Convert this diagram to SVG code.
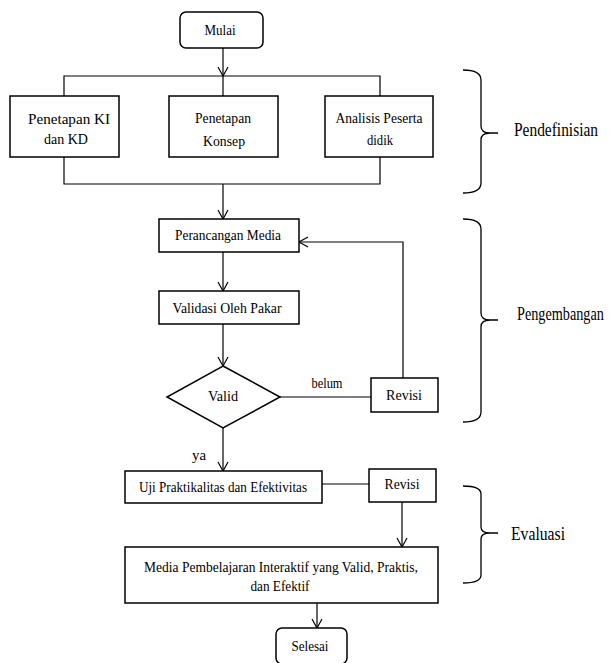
<svg xmlns="http://www.w3.org/2000/svg" width="614" height="663" viewBox="0 0 614 663">
<defs>
<style>
.box{fill:#fff;stroke:#000;stroke-width:1.5}
.ln{fill:none;stroke:#000;stroke-width:1.2}
.br{fill:none;stroke:#000;stroke-width:1.3}
text{font-family:"Liberation Serif","DejaVu Serif","Times New Roman",serif;font-size:15px;fill:#000;text-anchor:middle;dominant-baseline:central}
.lbl{font-size:18px;text-anchor:start}
</style>
<marker id="ah" markerWidth="12" markerHeight="12" refX="10" refY="6" orient="auto" markerUnits="userSpaceOnUse">
<path d="M1,1 L10,6 L1,11" fill="none" stroke="#000" stroke-width="1.2"/>
</marker>
</defs>
<rect width="614" height="663" fill="#fff"/>
<g id="connectors">
<line class="ln" x1="223" y1="48" x2="223" y2="76" marker-end="url(#ah)"/>
<polyline class="ln" points="64,96 64,76 380,76 380,96"/>
<line class="ln" x1="223" y1="76" x2="223" y2="96"/>
<polyline class="ln" points="64,157 64,184 380,184 380,157"/>
<line class="ln" x1="223" y1="184" x2="223" y2="219" marker-end="url(#ah)"/>
<line class="ln" x1="223" y1="252" x2="223" y2="291" marker-end="url(#ah)"/>
<line class="ln" x1="223" y1="324" x2="223" y2="366" marker-end="url(#ah)"/>
<line class="ln" x1="280" y1="397" x2="371" y2="397"/>
<polyline class="ln" points="403,378 403,242 299,242" marker-end="url(#ah)"/>
<line class="ln" x1="223" y1="428" x2="223" y2="471" marker-end="url(#ah)"/>
<line class="ln" x1="322" y1="484" x2="369" y2="484"/>
<line class="ln" x1="402" y1="502" x2="402" y2="547" marker-end="url(#ah)"/>
<line class="ln" x1="317" y1="603" x2="317" y2="628" marker-end="url(#ah)"/>
<text x="327" y="383" textLength="31" lengthAdjust="spacingAndGlyphs">belum</text>
<text x="199" y="455" textLength="14" lengthAdjust="spacingAndGlyphs">ya</text>
</g>
<g id="mulai"><rect class="box" x="180" y="12" width="83" height="36" rx="6"/><text x="220" y="30" textLength="31" lengthAdjust="spacingAndGlyphs">Mulai</text></g>
<g id="ki"><rect class="box" x="10" y="96" width="109" height="61"/><text x="69" y="119" textLength="82" lengthAdjust="spacingAndGlyphs">Penetapan KI</text><text x="66" y="139" textLength="44" lengthAdjust="spacingAndGlyphs">dan KD</text></g>
<g id="konsep"><rect class="box" x="169" y="96" width="109" height="61"/><text x="223" y="118" textLength="56" lengthAdjust="spacingAndGlyphs">Penetapan</text><text x="224" y="141" textLength="42" lengthAdjust="spacingAndGlyphs">Konsep</text></g>
<g id="analisis"><rect class="box" x="325" y="96" width="108" height="61"/><text x="379" y="118" textLength="87" lengthAdjust="spacingAndGlyphs">Analisis Peserta</text><text x="380" y="140" textLength="26" lengthAdjust="spacingAndGlyphs">didik</text></g>
<g id="perancangan"><rect class="box" x="159" y="219" width="140" height="33"/><text x="228" y="235" textLength="106" lengthAdjust="spacingAndGlyphs">Perancangan Media</text></g>
<g id="validasi"><rect class="box" x="159" y="291" width="140" height="33"/><text x="227" y="308" textLength="109" lengthAdjust="spacingAndGlyphs">Validasi Oleh Pakar</text></g>
<g id="valid"><polygon class="box" points="223,366 280,397 223,428 167,397"/><text x="223" y="396" textLength="30" lengthAdjust="spacingAndGlyphs">Valid</text></g>
<g id="revisi1"><rect class="box" x="371" y="378" width="67" height="34"/><text x="404" y="395" textLength="36" lengthAdjust="spacingAndGlyphs">Revisi</text></g>
<g id="uji"><rect class="box" x="125" y="471" width="197" height="32"/><text x="223" y="487" textLength="168" lengthAdjust="spacingAndGlyphs">Uji Praktikalitas  dan Efektivitas</text></g>
<g id="revisi2"><rect class="box" x="369" y="469" width="67" height="33"/><text x="402" y="484" textLength="35" lengthAdjust="spacingAndGlyphs">Revisi</text></g>
<g id="media"><rect class="box" x="125" y="547" width="313" height="56"/><text x="281" y="567" textLength="274" lengthAdjust="spacingAndGlyphs">Media Pembelajaran Interaktif yang Valid, Praktis,</text><text x="280" y="586" textLength="59" lengthAdjust="spacingAndGlyphs">dan Efektif</text></g>
<g id="selesai"><rect class="box" x="276" y="628" width="71" height="36" rx="6"/><text x="310" y="646" textLength="37" lengthAdjust="spacingAndGlyphs">Selesai</text></g>
<g id="pendefinisian"><path class="br" d="M463,70 Q481,70 481,80 L481,126 Q481,133 490,133 L498,133 M490,133 Q481,133 481,140 L481,183 Q481,193 463,193"/><text class="lbl" x="514" y="130" textLength="84" lengthAdjust="spacingAndGlyphs">Pendefinisian</text></g>
<g id="pengembangan"><path class="br" d="M463,219 Q481,219 481,229 L481,313 Q481,320 490,320 L498,320 M490,320 Q481,320 481,327 L481,412 Q481,422 463,422"/><text class="lbl" transform="translate(517,314) scale(0.79,1)" x="0" y="0">Pengembangan</text></g>
<g id="evaluasi"><path class="br" d="M463,486 Q481,486 481,494 L481,527 Q481,533 490,533 L498,533 M490,533 Q481,533 481,539 L481,575 Q481,583 463,583"/><text class="lbl" x="511" y="534" textLength="54" lengthAdjust="spacingAndGlyphs">Evaluasi</text></g>
</svg>
